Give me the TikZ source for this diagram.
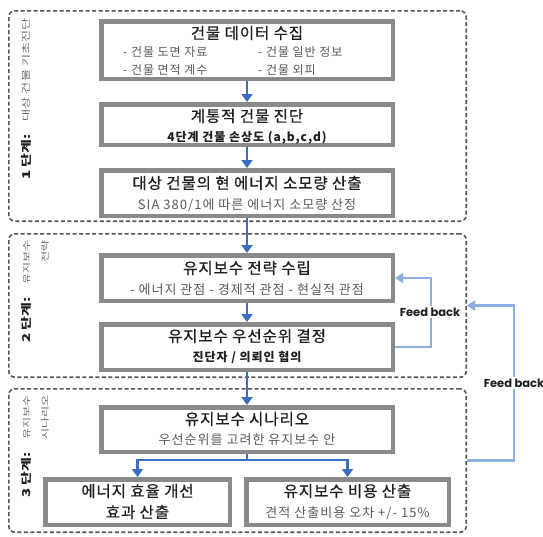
\documentclass[tikz,border=0pt]{standalone}
\usepackage{fontspec}
\setmainfont{Noto Sans CJK KR}
\newfontfamily\fbfont{Poppins}
\newfontfamily\ttlfont[LetterSpace=6, FakeBold=0.6]{Noto Sans CJK KR}
\newfontfamily\subfont[LetterSpace=8]{Noto Sans CJK KR}
\usetikzlibrary{arrows.meta}
\definecolor{arrowblue}{HTML}{3A6EC4}
\definecolor{fbblue}{HTML}{8EAEE0}
\definecolor{boxgray}{HTML}{8A8A8A}
\definecolor{dashgray}{HTML}{555555}
\definecolor{subgray}{HTML}{5A5A5A}
\definecolor{titlecol}{HTML}{1E1E1E}
\definecolor{sidegray}{HTML}{6A6A6A}
\tikzset{
  stagebox/.style={draw=dashgray, line width=1.6pt, dash pattern=on 4pt off 2.5pt, rounded corners=6pt, inner sep=0pt},
  mainbox/.style={draw=boxgray, line width=4.5pt, fill=white, inner sep=0pt},
  flow/.style={draw=arrowblue, line width=2.8pt, -{Triangle[length=8pt,width=11pt]}},
  fb/.style={draw=fbblue, line width=2.4pt, -{Triangle[length=8pt,width=10pt]}},
  fblabel/.style={fill=white, inner sep=1.5pt, text=titlecol, font=\fbfont\bfseries\fontsize{11.5}{13}\selectfont},
  ttl/.style={inner sep=0pt, text=titlecol, font=\ttlfont\fontsize{15.5}{17}\selectfont},
  sub/.style={inner sep=0pt, text=subgray, font=\subfont\fontsize{13}{15}\selectfont},
  item/.style={inner sep=0pt, text=subgray, font=\subfont\fontsize{12}{14}\selectfont},
  subdark/.style={inner sep=0pt, text=titlecol, font=\subfont\bfseries\fontsize{12}{14}\selectfont},
  sidebold/.style={inner sep=0pt, rotate=90, anchor=west, text=titlecol, font=\bfseries\fontsize{15}{17}\selectfont},
  sidegr/.style={inner sep=0pt, rotate=90, anchor=east, text=sidegray, font=\fontsize{12}{14}\selectfont},
}
\begin{document}
\begin{tikzpicture}[x=1pt,y=-1pt]
\useasboundingbox (0,0) rectangle (543,536);
% stage frames
\node[stagebox, minimum width=457.4pt, minimum height=210.4pt] (s1) at (237.5,116) {};
\node[stagebox, minimum width=457.4pt, minimum height=143.4pt] (s2) at (237.5,305.5) {};
\node[stagebox, minimum width=457.4pt, minimum height=143.4pt] (s3) at (237.5,460.5) {};
% side labels
\node[sidebold] (l1b) at (26,180) {\scalebox{1}[0.72]{1 단계:}};
\node[sidegr, font=\fontsize{13.2}{15}\selectfont] (l1g) at (26.5,18) {\scalebox{1}[0.66]{대상 건물 기초진단}};
\node[sidebold] (l2b) at (26,343) {\scalebox{1}[0.72]{2 단계:}};
\node[sidegr] (l2g) at (26.5,240) {\scalebox{1}[0.68]{유지보수}};
\node[sidegr] (l2h) at (45,240) {\scalebox{1}[0.68]{전략}};
\node[sidebold] (l3b) at (26,498) {\scalebox{1}[0.72]{3 단계:}};
\node[sidegr] (l3g) at (26.5,395) {\scalebox{1}[0.68]{유지보수}};
\node[sidegr] (l3h) at (45,395) {\scalebox{1}[0.68]{시나리오}};
\coordinate (split) at (247,460);
% boxes
\node[mainbox, minimum width=291.5pt, minimum height=57.5pt] (b1) at (247,50) {};
\node[mainbox, minimum width=291.5pt, minimum height=40.5pt] (b2) at (247,124.5) {};
\node[mainbox, minimum width=291.5pt, minimum height=45.5pt] (b3) at (247,193) {};
\node[mainbox, minimum width=291.5pt, minimum height=45.5pt] (b4) at (247,278) {};
\node[mainbox, minimum width=291.5pt, minimum height=45.5pt] (b5) at (247,347) {};
\node[mainbox, minimum width=291.5pt, minimum height=44.5pt] (b6) at (247,429.5) {};
\node[mainbox, minimum width=184.5pt, minimum height=45.5pt] (b7) at (137.5,502) {};
\node[mainbox, minimum width=202.5pt, minimum height=45.5pt] (b8) at (347.5,502) {};
% box texts
\node[ttl] (t1) at (247,33) {건물 데이터 수집};
\node[item, anchor=west] (t1a) at (123,52) {- 건물 도면 자료};
\node[item, anchor=west] (t1b) at (258,52) {- 건물 일반 정보};
\node[item, anchor=west] (t1c) at (123,70) {- 건물 면적 계수};
\node[item, anchor=west] (t1d) at (258,70) {- 건물 외피};
\node[ttl] (t2) at (247,116) {계통적 건물 진단};
\node[subdark] (t2a) at (247,138) {4단계 건물 손상도 (a,b,c,d)};
\node[ttl] (t3) at (247,183) {대상 건물의 현 에너지 소모량 산출};
\node[sub] (t3a) at (247,205) {SIA 380/1에 따른 에너지 소모량 산정};
\node[ttl] (t4) at (247,268) {유지보수 전략 수립};
\node[sub] (t4a) at (247,290) {- 에너지 관점 - 경제적 관점 - 현실적 관점};
\node[ttl] (t5) at (247,336) {유지보수 우선순위 결정};
\node[subdark] (t5a) at (247,357) {진단자 / 의뢰인 협의};
\node[ttl] (t6) at (247,419) {유지보수 시나리오};
\node[sub] (t6a) at (247,440) {우선순위를 고려한 유지보수 안};
\node[ttl] (t7) at (137.5,491) {에너지 효율 개선};
\node[ttl] (t7a) at (137.5,512) {효과 산출};
\node[ttl] (t8) at (347.5,491) {유지보수 비용 산출};
\node[sub] (t8a) at (347.5,513) {견적 산출비용 오차 +/- 15\%};
% flow arrows
\draw[flow] (b1.south) -- (b2.north);
\draw[flow] (b2.south) -- (b3.north);
\draw[flow] (b3.south) -- (b4.north);
\draw[flow] (b4.south) -- (b5.north);
\draw[flow] (b5.south) -- (b6.north);
\draw[flow] (b6.south) -- (split) -| (b7.north);
\draw[flow] (split) -| (b8.north);
% feedback
\draw[fb] (b5.east) -- ++(36,0) |- (b4.east);
\node[fblabel] (fb1) at (430,312) {Feed back};
\draw[fb] (s3.east) -- ++(47,0) |- (s2.east);
\node[fblabel] (fb2) at (514,383) {Feed back};
\end{tikzpicture}
\end{document}
